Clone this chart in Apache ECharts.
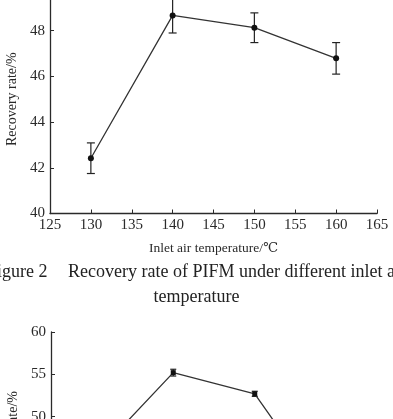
<!DOCTYPE html>
<html>
<head>
<meta charset="utf-8">
<script src="https://cdn.jsdelivr.net/npm/echarts@6/dist/echarts.min.js"></script>
<style>
  html, body { margin: 0; padding: 0; background: #fff; }
  #chart { width: 393px; height: 419px; }
</style>
</head>
<body>
<div id="chart"></div>
<script>
// 进风温度（℃）
var temps = [130, 140, 150, 160];
// 图2：回收率及误差
var recovery = [42.42, 48.67, 48.13, 46.79];
var recoveryErr = [0.67, 0.77, 0.65, 0.69];
// 下方图（只露出上半部分）
var recovery2 = [45.0, 55.2, 52.7, 39.0];
var recovery2Err = [0.5, 0.4, 0.3, 0.5];

var xTicks = [125, 165, 5];

var serif = '"Liberation Serif", "DejaVu Serif", serif';
var axisColor = '#2a2a2a';

function pairs(xs, ys) {
    return xs.map(function (x, i) { return [x, ys[i]]; });
}
function errData(xs, ys, es) {
    return xs.map(function (x, i) { return [x, ys[i] - es[i], ys[i] + es[i]]; });
}
function errSeries(idx, data, cap) {
    return {
        type: 'custom',
        xAxisIndex: idx,
        yAxisIndex: idx,
        data: data,
        z: 3,
        renderItem: function (params, api) {
            var lo = api.coord([api.value(0), api.value(1)]);
            var hi = api.coord([api.value(0), api.value(2)]);
            var st = { stroke: '#222', lineWidth: 1.2 };
            return {
                type: 'group',
                children: [
                    { type: 'line', shape: { x1: lo[0], y1: lo[1], x2: hi[0], y2: hi[1] }, style: st },
                    { type: 'line', shape: { x1: lo[0] - cap, y1: lo[1], x2: lo[0] + cap, y2: lo[1] }, style: st },
                    { type: 'line', shape: { x1: hi[0] - cap, y1: hi[1], x2: hi[0] + cap, y2: hi[1] }, style: st }
                ]
            };
        }
    };
}

function xAxisCfg(idx, withLabels) {
    return {
        type: 'value',
        gridIndex: idx,
        min: xTicks[0],
        max: xTicks[1],
        interval: xTicks[2],
        name: withLabels ? 'Inlet air temperature/\u2103' : '',
        nameLocation: 'middle',
        nameGap: 28,
        nameTextStyle: { fontFamily: serif, fontSize: 13.5, color: axisColor },
        axisLine: { lineStyle: { color: axisColor, width: 1.3 } },
        axisTick: { inside: true, length: 4, lineStyle: { color: axisColor } },
        axisLabel: { show: withLabels, fontFamily: serif, fontSize: 15, color: axisColor, margin: 4 },
        splitLine: { show: false }
    };
}

function yAxisCfg(idx, min, max, interval) {
    return {
        type: 'value',
        gridIndex: idx,
        min: min,
        max: max,
        interval: interval,
        name: 'Recovery rate/%',
        nameLocation: 'middle',
        nameRotate: 90,
        nameGap: 27,
        nameTextStyle: { fontFamily: serif, fontSize: 14, color: axisColor },
        axisLine: { show: true, lineStyle: { color: axisColor, width: 1.3 } },
        axisTick: { show: true, inside: true, length: 4, lineStyle: { color: axisColor } },
        axisLabel: { fontFamily: serif, fontSize: 15, color: axisColor, margin: 5 },
        splitLine: { show: false }
    };
}

var myChart = echarts.init(document.getElementById('chart'));

var option = {
    backgroundColor: '#fff',
    animation: false,
    grid: [
        { left: 50, top: -15, width: 327, height: 228.5, outerBoundsMode: 'none', containLabel: false },
        { left: 51, top: 332, width: 326, height: 211.7, outerBoundsMode: 'none', containLabel: false }
    ],
    xAxis: [xAxisCfg(0, true), xAxisCfg(1, false)],
    yAxis: [yAxisCfg(0, 40, 50, 2), yAxisCfg(1, 35, 60, 5)],
    graphic: [
        { type: 'text', left: -13, top: 263, style: { text: 'Figure 2', font: '18px ' + serif, fill: '#222' } },
        { type: 'text', left: 68, top: 263, style: { text: 'Recovery rate of PIFM under different inlet air', font: '18px ' + serif, fill: '#222' } },
        { type: 'text', left: 'center', top: 288, style: { text: 'temperature', font: '18px ' + serif, fill: '#222' } }
    ],
    series: [
        {
            type: 'line',
            xAxisIndex: 0,
            yAxisIndex: 0,
            data: pairs(temps, recovery),
            symbol: 'circle',
            symbolSize: 6,
            lineStyle: { color: '#333', width: 1.3 },
            itemStyle: { color: '#111' },
            z: 4
        },
        errSeries(0, errData(temps, recovery, recoveryErr), 4),
        {
            type: 'line',
            xAxisIndex: 1,
            yAxisIndex: 1,
            data: pairs(temps, recovery2),
            symbol: 'rect',
            symbolSize: 5,
            lineStyle: { color: '#333', width: 1.3 },
            itemStyle: { color: '#111' },
            z: 4
        },
        errSeries(1, errData(temps, recovery2, recovery2Err), 3)
    ]
};

myChart.setOption(option);
</script>
</body>
</html>
